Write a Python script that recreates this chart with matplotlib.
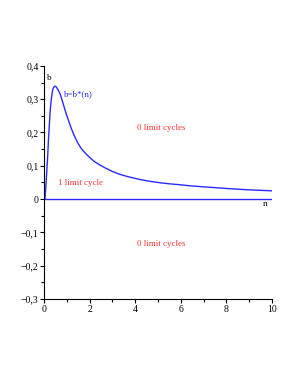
import matplotlib
matplotlib.use('Agg')
import matplotlib.pyplot as plt
from matplotlib.ticker import MultipleLocator, FuncFormatter

# curve b = b*(n)
n_vals = [0.04, 0.08, 0.12, 0.16, 0.19, 0.23, 0.26, 0.30, 0.34, 0.37, 0.40, 0.44, 0.47,
          0.51, 0.55, 0.62, 0.70, 0.78, 0.86, 0.93, 1.0, 1.1, 1.2, 1.3, 1.4, 1.5, 1.6,
          1.7, 1.85, 2.0, 2.2, 2.46, 2.7, 3.0, 3.3, 3.7, 4.2, 4.6, 5.1, 5.5, 6.0, 6.4,
          6.8, 7.4, 8.0, 8.7, 9.3, 10.0]
b_vals = [0.0, 0.042, 0.087, 0.132, 0.177, 0.222, 0.258, 0.290, 0.312, 0.325, 0.333, 0.337, 0.339,
          0.338, 0.335, 0.327, 0.316, 0.299, 0.281, 0.265, 0.250, 0.230, 0.211, 0.194, 0.179, 0.166, 0.155,
          0.146, 0.135, 0.125, 0.113, 0.102, 0.093, 0.083, 0.075, 0.067, 0.059, 0.054, 0.049, 0.046, 0.043, 0.040,
          0.038, 0.035, 0.032, 0.029, 0.027, 0.025]

zero_n = [0, 10]
zero_b = [0, 0]

labels = ['0 limit cycles', '1 limit cycle', '0 limit cycles']
label_pos = [(5.16, 0.212), (1.58, 0.047), (5.16, -0.136)]

plt.rcParams['font.family'] = ['Liberation Serif', 'DejaVu Serif']

fig = plt.figure(figsize=(2.98, 3.85), dpi=100)
ax = fig.add_axes([0.148, 0.223, 0.765, 0.606])

blue = '#2a2aff'
red = '#ff3030'
ax.plot(n_vals, b_vals, color=blue, lw=1.0)
ax.plot(zero_n, zero_b, color=blue, lw=1.0)

for txt, (x, y) in zip(labels, label_pos):
    ax.text(x, y, txt, color=red, fontsize=6.4, ha='center', va='center')
ax.text(0.85, 0.314, 'b=b*(n)', color=blue, fontsize=6.4, ha='left', va='center')
ax.text(0.22, 0.365, 'b', color='black', fontsize=6.6, ha='center', va='center')
ax.text(9.69, -0.016, 'n', color='black', fontsize=6.6, ha='center', va='center')

ax.set_xlim(0, 10)
ax.set_ylim(-0.3, 0.4)
ax.spines['top'].set_visible(False)
ax.spines['right'].set_visible(False)
ax.spines['left'].set_linewidth(0.8)
ax.spines['bottom'].set_linewidth(0.8)

ax.xaxis.set_major_locator(MultipleLocator(2))
ax.xaxis.set_minor_locator(MultipleLocator(1))
ax.yaxis.set_major_locator(MultipleLocator(0.1))
ax.yaxis.set_minor_locator(MultipleLocator(0.05))

def yfmt(v, pos):
    if abs(v) < 1e-9:
        return '0'
    s = f'{abs(v):.1f}'.replace('.', ',')
    return ('\u2212' if v < 0 else '') + s

ax.yaxis.set_major_formatter(FuncFormatter(yfmt))
ax.xaxis.set_major_formatter(FuncFormatter(lambda v, p: f'{v:.0f}'))
ax.tick_params(which='major', length=3, width=0.8, labelsize=7, pad=1)
ax.tick_params(which='minor', length=2, width=0.8)

fig.savefig('out.png', dpi=100)
